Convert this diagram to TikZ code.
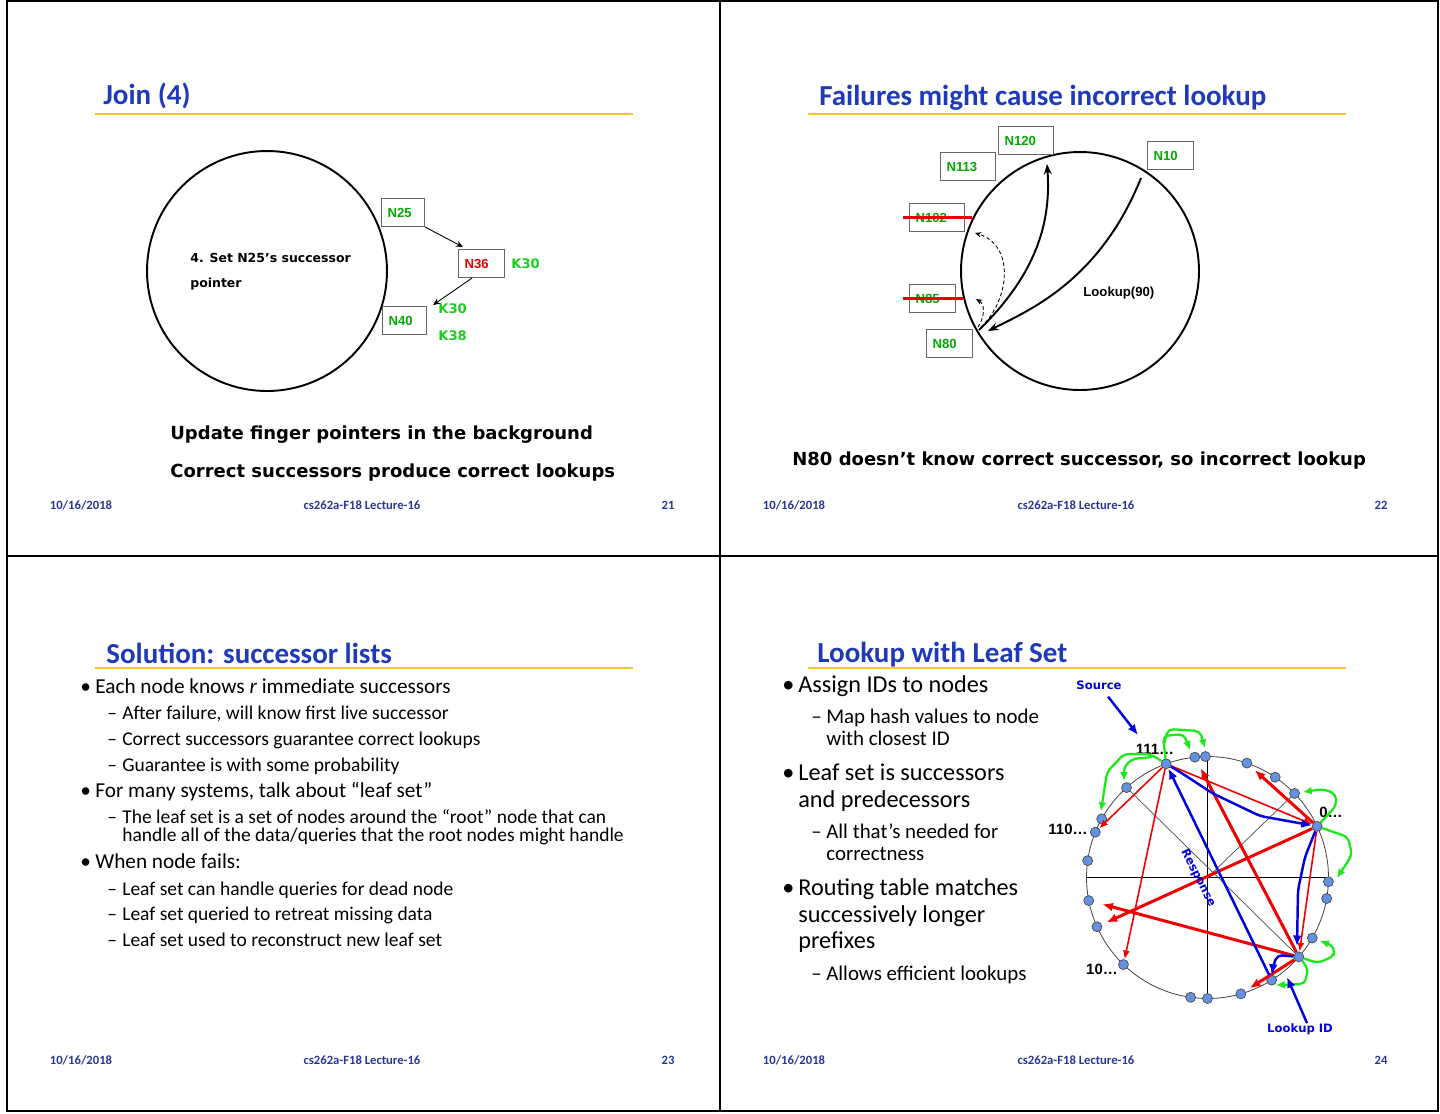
\documentclass[tikz,border=0pt]{standalone}
\usepackage{fontspec}
\setmainfont{Carlito}
\newfontfamily\comicfont{DejaVu Sans}
\newfontfamily\arialfont{Liberation Sans}
\usetikzlibrary{arrows.meta}

\definecolor{titleblue}{RGB}{31,58,185}
\definecolor{footblue}{RGB}{40,55,150}
\definecolor{rulegold}{RGB}{250,198,45}
\definecolor{idgreen}{RGB}{0,170,0}
\definecolor{keygreen}{RGB}{30,205,30}
\definecolor{idred}{RGB}{230,0,0}
\definecolor{dotblue}{RGB}{100,145,225}
\definecolor{hopred}{RGB}{240,0,0}
\definecolor{hopblue}{RGB}{0,0,225}
\definecolor{leafgreen}{RGB}{25,235,25}

\newcommand\bul[1]{\makebox[#1][l]{•}}
\newcommand\dash[1]{\makebox[#1][l]{–}}

\tikzset{
  frameline/.style={line width=1.1pt},
  slidetitle/.style={anchor=base west, inner sep=0pt, text=titleblue, font=\bfseries\fontsize{16.5}{19}\selectfont},
  titlerule/.style={draw=rulegold, line width=1.6pt},
  footer/.style={anchor=base, inner sep=0pt, text=footblue, font=\bfseries\fontsize{7.2}{8}\selectfont},
  bigring/.style={line width=1.1pt},
  idbox/.style={draw=black!60, line width=0.6pt, anchor=north west, text width=#1, minimum height=0.56cm,
    inner xsep=0.12cm, inner ysep=0pt, align=left, text=idgreen, font=\arialfont\bfseries\fontsize{7.5}{9}\selectfont},
  keylabel/.style={anchor=base west, inner sep=0pt, text=keygreen, font=\comicfont\bfseries\fontsize{7.5}{9}\selectfont},
  comic/.style={anchor=base west, inner sep=0pt, font=\comicfont\bfseries\fontsize{10.25}{12}\selectfont},
  note/.style={anchor=base west, inner sep=0pt, font=\comicfont\bfseries\fontsize{7.1}{8}\selectfont},
  ptr/.style={line width=0.5pt, -{Stealth[length=4pt,width=3.5pt]}},
  lookuparc/.style={line width=1.1pt, -{Stealth[length=6pt,width=4.5pt]}},
  probe/.style={line width=0.5pt, dash pattern=on 2pt off 1.5pt, -{Stealth[length=3.5pt,width=3pt]}},
  strikeout/.style={draw=idred, line width=1.2pt},
  body/.style={anchor=base west, inner sep=0pt, font=\fontsize{12.1}{14}\selectfont},
  subbody/.style={anchor=base west, inner sep=0pt, font=\fontsize{11.1}{13}\selectfont},
  bigbody/.style={anchor=base west, inner sep=0pt, font=\fontsize{13.8}{16}\selectfont},
  bigsub/.style={anchor=base west, inner sep=0pt, font=\fontsize{11.9}{14}\selectfont},
  leafring/.style={draw=black!75, line width=0.45pt},
  axisline/.style={line width=0.9pt},
  chord/.style={draw=black!70, line width=0.4pt},
  leafdot/.style={circle, draw=black!70, fill=dotblue, line width=0.4pt, inner sep=0pt, minimum size=0.2cm},
  ringlabel/.style={inner sep=0pt, font=\arialfont\bfseries\fontsize{8.5}{10}\selectfont},
  bluelabel/.style={inner sep=0pt, text=hopblue, font=\comicfont\bfseries\fontsize{6.6}{8}\selectfont},
  hopthin/.style={hopred, line width=0.9pt, -{Latex[length=5pt,width=4pt]}},
  hopthick/.style={hopred, line width=1.7pt, -{Latex[length=6pt,width=5pt]}},
  bluehop/.style={hopblue, line width=1.4pt, rounded corners=3pt, -{Latex[length=6pt,width=5pt]}},
  leafhop/.style={leafgreen, line width=1.3pt, rounded corners=3pt, -{Latex[length=5pt,width=4.5pt]}}
}

\begin{document}
\begin{tikzpicture}[x=0.02cm, y=-0.02cm]
\useasboundingbox (0,0) rectangle (1440,1113);

% four slides on one page
\draw[frameline] (7,1) rectangle (1438,1111);
\draw[frameline] (720,1) -- (720,1111);
\draw[frameline] (7,556) -- (1438,556);

% ---------- slide 21: join
\node[slidetitle] (t21) at (103,104) {Join (4)};
\draw[titlerule] (95,114) -- (633,114);
\draw[bigring] (267,271) circle [radius=2.4cm];
\node[note] (step4) at (190,262) {4. Set N25’s successor};
\node[note] (step4b) at (190,287) {pointer};
\node[idbox=0.62cm] (n25) at (381,198) {N25};
\node[idbox=0.68cm, text=idred] (n36) at (458,249) {N36};
\node[idbox=0.64cm] (n40) at (382,306) {N40};
\node[keylabel] (k30a) at (511,268) {K30};
\node[keylabel] (k30b) at (438,313) {K30};
\node[keylabel] (k38) at (438,340) {K38};
\draw[ptr] (n25.south east) -- ([xshift=0.1cm, yshift=0.04cm]n36.north west);
\draw[ptr] ([xshift=0.28cm]n36.south west) -- ([xshift=0.12cm, yshift=0.02cm]n40.north east);
\node[comic] (upd) at (170,439) {Update finger pointers in the background};
\node[comic] (cor) at (170,477) {Correct successors produce correct lookups};
\node[footer] (f21a) at (81,509) {10/16/2018};
\node[footer] (f21b) at (362,509) {cs262a-F18 Lecture-16};
\node[footer] (f21c) at (668,509) {21};

% ---------- slide 22: failures
\node[slidetitle] (t22) at (819,105) {Failures might cause incorrect lookup};
\draw[titlerule] (808,114) -- (1346,114);
\draw[bigring] (1080,271) circle [radius=2.38cm];
\node[idbox=0.86cm] (n120) at (998,126) {N120};
\node[idbox=0.86cm] (n113) at (940,152) {N113};
\node[idbox=0.68cm] (n10) at (1147,141) {N10};
\node[idbox=0.86cm] (n102) at (909,203) {N102};
\node[idbox=0.68cm] (n85) at (909,284) {N85};
\node[idbox=0.68cm] (n80) at (926,329) {N80};
\draw[strikeout] ([xshift=-0.12cm]n102.west) -- ([xshift=0.14cm]n102.east);
\draw[strikeout] ([xshift=-0.12cm]n85.west) -- ([xshift=0.14cm]n85.east);
\coordinate (at80) at (979,330);
\coordinate (at120) at (1047,164);
\coordinate (at10) at (1141,178);
\coordinate (at102) at (975,233);
\coordinate (at85) at (976,299);
\draw[lookuparc] (at80) .. controls (1030,280) and (1052,230) .. (at120);
\draw[lookuparc] (at10) .. controls (1100,280) and (1030,310) .. ([shift={(9,1)}]at80);
\draw[probe] ([shift={(2,-3)}]at80) .. controls (1010,300) and (1015,245) .. (at102);
\draw[probe] ([shift={(-1,-3)}]at80) .. controls (984,318) and (986,305) .. (at85);
\node[anchor=base west, inner sep=0pt, font=\arialfont\bfseries\fontsize{7.5}{9}\selectfont] (look90) at (1083,296) {Lookup(90)};
\node[comic] (n80txt) at (792,465) {N80 doesn’t know correct successor, so incorrect lookup};
\node[footer] (f22a) at (794,509) {10/16/2018};
\node[footer] (f22b) at (1076,509) {cs262a-F18 Lecture-16};
\node[footer] (f22c) at (1381,509) {22};

% ---------- slide 23: successor lists
\node[slidetitle] (t23) at (106,663) {Solution: successor lists};
\draw[titlerule] (95,668) -- (633,668);
\node[body] (b1) at (80,693) {\bul{0.3cm}Each node knows \emph{r} immediate successors};
\node[subbody] (b2) at (107,719) {\dash{0.3cm}After failure, will know first live successor};
\node[subbody] (b3) at (107,745) {\dash{0.3cm}Correct successors guarantee correct lookups};
\node[subbody] (b4) at (107,771) {\dash{0.3cm}Guarantee is with some probability};
\node[body] (b5) at (80,797) {\bul{0.3cm}For many systems, talk about “leaf set”};
\node[subbody] (b6) at (107,823) {\dash{0.3cm}The leaf set is a set of nodes around the “root” node that can};
\node[subbody] (b6b) at (122,841) {handle all of the data/queries that the root nodes might handle};
\node[body] (b7) at (80,868) {\bul{0.3cm}When node fails:};
\node[subbody] (b8) at (107,895) {\dash{0.3cm}Leaf set can handle queries for dead node};
\node[subbody] (b9) at (107,920) {\dash{0.3cm}Leaf set queried to retreat missing data};
\node[subbody] (b10) at (107,946) {\dash{0.3cm}Leaf set used to reconstruct new leaf set};
\node[footer] (f23a) at (81,1064) {10/16/2018};
\node[footer] (f23b) at (362,1064) {cs262a-F18 Lecture-16};
\node[footer] (f23c) at (668,1064) {23};

% ---------- slide 24: leaf set
\node[slidetitle] (t24) at (817,662) {Lookup with Leaf Set};
\draw[titlerule] (808,668) -- (1346,668);
\node[bigbody] (c1) at (782,692) {\bul{0.32cm}Assign IDs to nodes};
\node[bigsub] (c2) at (811,723) {\dash{0.3cm}Map hash values to node};
\node[bigsub] (c2b) at (826,745) {with closest ID};
\node[bigbody] (c3) at (782,780) {\bul{0.32cm}Leaf set is successors};
\node[bigbody] (c3b) at (798,807) {and predecessors};
\node[bigsub] (c4) at (811,838) {\dash{0.3cm}All that’s needed for};
\node[bigsub] (c4b) at (826,860) {correctness};
\node[bigbody] (c5) at (782,895) {\bul{0.32cm}Routing table matches};
\node[bigbody] (c5b) at (798,922) {successively longer};
\node[bigbody] (c5c) at (798,948) {prefixes};
\node[bigsub] (c6) at (811,980) {\dash{0.3cm}Allows efficient lookups};
\node[footer] (f24a) at (794,1064) {10/16/2018};
\node[footer] (f24b) at (1076,1064) {cs262a-F18 Lecture-16};
\node[footer] (f24c) at (1381,1064) {24};

% the ring of ids
\coordinate (ls) at (1207.5,877.5);
\draw[leafring] (ls) circle [radius=2.42cm];
\draw[axisline] ([xshift=-2.42cm]ls) -- ([xshift=2.42cm]ls);
\draw[axisline] ([yshift=2.42cm]ls) -- ([yshift=-2.42cm]ls);
\foreach \a [count=\i] in {110,96,91,71,56,44,25,-2,-10,-30,-41,-58,-74,-90,-98,-134,-156,-169,172,158,151,132}
  \node[leafdot] (d\i) at ([shift={(-\a:121)}]ls) {};
\draw[chord] (d22) -- (d11);
\draw[chord] (ls) -- (d6);

\node[ringlabel] (l111) at (1155,749) {111…};
\node[ringlabel] (l0) at (1331,812) {0…};
\node[ringlabel] (l110) at (1068,829) {110…};
\node[ringlabel] (l10) at (1102,969) {10…};

% routing hops
\draw[hopthin] (d1) -- (d20);
\draw[hopthin] (d1) -- (d16);
\draw[hopthin] (d1) -- (d7);
\draw[hopthin] (d7) -- (d11);
\draw[hopthick, shorten >=3pt] (d7) -- (d4);
\draw[hopthick, shorten >=3pt] (d7) -- (d17);
\draw[hopthick, shorten >=4pt] (d11) -- (d2);
\draw[hopthick, shorten >=5pt] (d11) -- (d18);
\draw[hopthick, shorten >=3pt] (d11) -- (d13);

% leaf set hops
\draw[leafhop] (d1) -- (1163,736) -- (1184,734) -- (1190,750);
\draw[leafhop] (1164,744) -- (1168,729) -- (1200,731) -- (1205,748);
\draw[leafhop] (d1) -- (1150,754) -- (1124,754) -- (1107,772) -- (1101,811);
\draw[leafhop] (1152,757) -- (1132,759) -- (1124,767) -- (1124,781);
\draw[leafhop] (d7) -- (1336,806) -- (1336,794) -- (1323,789) -- (1303,792);
\draw[leafhop] (d7) -- (1348,837) -- (1352,855) -- (1337,878);
\draw[leafhop] (d11) -- (1318,963) -- (1334,956) -- (1334,946) -- (1320,941);
\draw[leafhop] (d11) -- (1308,968) -- (1305,984) -- (1276,985);

% lookup and response
\node[bluelabel] (source) at (1099,685) {Source};
\coordinate (srctip) at (1138,735);
\draw[bluehop, shorten <=5pt] (source) -- (srctip);
\node[bluelabel] (lkid) at (1300,1029) {Lookup ID};
\coordinate (lktip) at (1287,977);
\draw[bluehop] ([xshift=0.14cm]lkid.north) -- (lktip);
\draw[bluehop] (d1) -- (1180,772) -- (1212,793) -- (1260,816) -- (d7);
\draw[bluehop] (d7) -- (1305,857) -- (1298,890) -- (1297,946);
\draw[bluehop] (d11) -- (1277,955) -- (1273,967) -- (d12);
\draw[bluehop] (d12) -- (d1);
\node[bluelabel, rotate=-63] (resp) at (1198,878) {Response};
\end{tikzpicture}
\end{document}
